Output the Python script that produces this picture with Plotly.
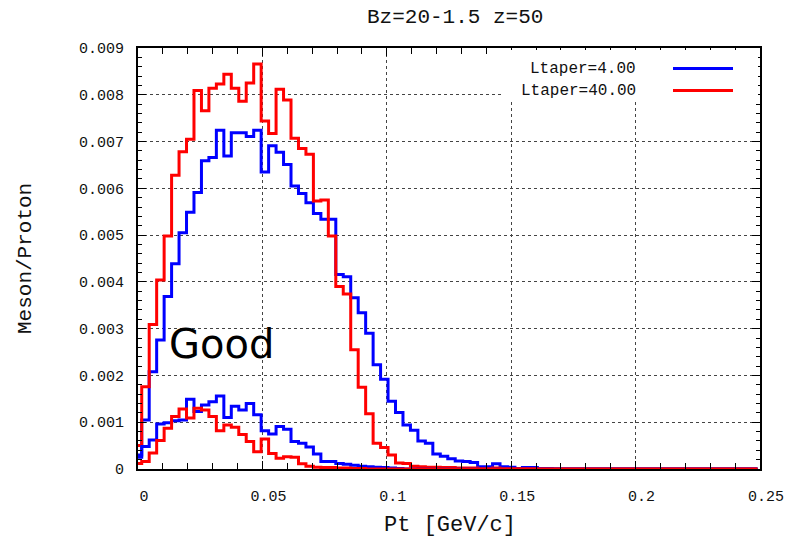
import plotly.graph_objects as go

# ---------------- data ----------------
BIN_WIDTH = 0.003
N_BINS = 84

ltaper4_high = [
    0.00030, 0.00105, 0.00208, 0.00276, 0.00369, 0.00439, 0.00505, 0.00549, 0.00591, 0.00659,
    0.00666, 0.00724, 0.00669, 0.00719, 0.00719, 0.00711, 0.00724, 0.00635, 0.00691, 0.00677,
    0.00651, 0.00605, 0.00589, 0.00569, 0.00546, 0.00534, 0.00534, 0.00416, 0.00411, 0.00366,
    0.00334, 0.00290, 0.00223, 0.00192, 0.00145, 0.00121, 0.00094, 0.00083, 0.00060, 0.00055,
    0.00032, 0.00027, 0.00022, 0.00017, 0.00016, 0.00014, 0.00005, 0.00005, 0.00011, 0.00005,
    0.00004, 0.00001, 0.00003, 0.00003, 0.00001, 0.00001, 0, 0, 0, 0,
    0, 0, 0, 0, 0, 0, 0, 0, 0, 0,
    0, 0, 0, 0, 0, 0, 0, 0, 0, 0,
    0, 0, 0, 0,
]

ltaper40_high = [
    0.00050, 0.00176, 0.00309, 0.00404, 0.00498, 0.00628, 0.00678, 0.00705, 0.00809, 0.00766,
    0.00814, 0.00823, 0.00844, 0.00814, 0.00786, 0.00825, 0.00866, 0.00744, 0.00717, 0.00812,
    0.00789, 0.00707, 0.00685, 0.00673, 0.00573, 0.00575, 0.00498, 0.00390, 0.00374, 0.00255,
    0.00175, 0.00118, 0.00055, 0.00046, 0.00030, 0.00013, 0.00012, 0.00006, 0.00005, 0.00004,
    0.00004, 0.00003, 0.00003, 0.00002, 0.00002, 0.00002, 0.00001, 0.00001, 0.00002, 0.00001,
    0.00001, 0.00001, 0.00001, 0.00001, 0, 0, 0, 0, 0, 0,
    0, 0, 0, 0, 0, 0, 0, 0, 0, 0,
    0, 0, 0, 0, 0, 0, 0, 0, 0, 0,
    0, 0, 0, 0,
]

ltaper4_low = [
    0.00025, 0.00048, 0.00062, 0.00096, 0.00099, 0.00103, 0.00105, 0.00149, 0.00123, 0.00137,
    0.00144, 0.00156, 0.00110, 0.00134, 0.00126, 0.00140, 0.00116, 0.00082, 0.00075, 0.00091,
    0.00085, 0.00059, 0.00055, 0.00047, 0.00032, 0.00016, 0.00016, 0.00012, 0.00010, 0.00008,
    0.00006, 0.00005, 0.00004, 0.00003, 0.00002, 0.00001, 0, 0, 0, 0,
    0, 0, 0, 0, 0, 0, 0, 0, 0, 0,
    0, 0, 0, 0, 0, 0, 0, 0, 0, 0,
    0, 0, 0, 0, 0, 0, 0, 0, 0, 0,
    0, 0, 0, 0, 0, 0, 0, 0, 0, 0,
    0, 0, 0, 0,
]

ltaper40_low = [
    0.00012, 0.00016, 0.00034, 0.00061, 0.00087, 0.00112, 0.00128, 0.00109, 0.00130, 0.00126,
    0.00112, 0.00082, 0.00094, 0.00089, 0.00074, 0.00059, 0.00037, 0.00064, 0.00033, 0.00023,
    0.00026, 0.00025, 0.00011, 0.00006, 0.00004, 0.00003, 0.00003, 0.00002, 0.00002, 0.00001,
    0.00001, 0, 0, 0, 0, 0, 0, 0, 0, 0,
    0, 0, 0, 0, 0, 0, 0, 0, 0, 0,
    0, 0, 0, 0, 0, 0, 0, 0, 0, 0,
    0, 0, 0, 0, 0, 0, 0, 0, 0, 0,
    0, 0, 0, 0, 0, 0, 0, 0, 0, 0,
    0, 0, 0, 0,
]

pt = [round(i * BIN_WIDTH, 4) for i in range(N_BINS)]

x_tickvals = [0, 0.05, 0.1, 0.15, 0.2, 0.25]
x_ticktext = ["0", "0.05", "0.1", "0.15", "0.2", "0.25"]
y_tickvals = [0, 0.001, 0.002, 0.003, 0.004, 0.005, 0.006, 0.007, 0.008, 0.009]
y_ticktext = ["0", "0.001", "0.002", "0.003", "0.004", "0.005", "0.006", "0.007", "0.008", "0.009"]

legend_labels = ["Ltaper=4.00", "Ltaper=40.00"]
BLUE = "#0000ff"
RED = "#ff0000"
MONO = "Liberation Mono, Courier New, monospace"

# ---------------- figure ----------------
fig = go.Figure()
traces = [
    (ltaper4_high, legend_labels[0], BLUE),
    (ltaper40_high, legend_labels[1], RED),
    (ltaper4_low, legend_labels[0] + " (low)", BLUE),
    (ltaper40_low, legend_labels[1] + " (low)", RED),
]
for vals, name, col in traces:
    fig.add_trace(go.Scatter(
        x=pt, y=vals, mode="lines", name=name, showlegend=False,
        line=dict(color=col, width=3, shape="hvh"),
    ))

# plot area in pixels
L, R, T, B = 138, 27, 48, 70
W, H = 787, 539
pw, ph = W - L - R, H - T - B

def px(xp):
    return (xp - L) / pw

def py(yp):
    return (H - B - yp) / ph

axis_common = dict(
    showline=True, linewidth=2, linecolor="black", mirror="ticks",
    ticks="inside", ticklen=8, tickwidth=1, tickcolor="black",
    showgrid=True, gridcolor="#444444", griddash="dot", gridwidth=1,
    zeroline=False, automargin=False,
    tickfont=dict(family=MONO, size=15, color="#111111"),
)

fig.update_xaxes(
    range=[0, 0.25], tickmode="array", tickvals=x_tickvals, ticktext=x_ticktext,
    minor=dict(ticks="inside", ticklen=6, tickwidth=1, tickcolor="black",
               tickmode="linear", tick0=0, dtick=0.01, showgrid=False),
    ticklabelstandoff=12, ticklabelshift=6,
    **axis_common,
)
fig.update_yaxes(
    range=[0, 0.009], tickmode="array", tickvals=y_tickvals, ticktext=y_ticktext,
    minor=dict(ticks="inside", ticklen=4, tickwidth=1, tickcolor="black",
               tickmode="linear", tick0=0, dtick=0.0002, showgrid=False),
    ticklabelstandoff=9,
    **axis_common,
)

annotations = [
    dict(text="Bz=20-1.5 z=50", x=px(455), y=py(18), xref="paper", yref="paper",
         showarrow=False, xanchor="center", yanchor="middle",
         font=dict(family=MONO, size=21, color="#111111")),
    dict(text="Pt [GeV/c]", x=px(450), y=py(525), xref="paper", yref="paper",
         showarrow=False, xanchor="center", yanchor="middle",
         font=dict(family=MONO, size=22, color="#111111")),
    dict(text="Meson/Proton", x=px(25), y=py(259), xref="paper", yref="paper",
         showarrow=False, xanchor="center", yanchor="middle", textangle=-90,
         font=dict(family=MONO, size=21, color="#111111")),
    dict(text="Good", x=0.0117, y=0.00268, xref="x", yref="y",
         showarrow=False, xanchor="left", yanchor="middle",
         font=dict(family="DejaVu Sans", size=40, color="black")),
]
shapes = [
    dict(type="rect", xref="paper", yref="paper", x0=px(503), x1=px(758), y0=py(101), y1=py(50),
         fillcolor="white", line=dict(width=0), layer="above"),
]
for i, (lab, col) in enumerate(zip(legend_labels, [BLUE, RED])):
    yy = 68.5 + 22 * i
    annotations.append(dict(text=lab, x=px(638), y=py(yy), xref="paper", yref="paper",
                            showarrow=False, xanchor="right", yanchor="middle",
                            font=dict(family=MONO, size=16, color="#111111")))
    shapes.append(dict(type="line", xref="paper", yref="paper", x0=px(673), x1=px(733),
                       y0=py(yy), y1=py(yy), line=dict(color=col, width=3), layer="above"))

fig.update_layout(
    width=W, height=H,
    margin=dict(l=L, r=R, t=T, b=B),
    paper_bgcolor="white", plot_bgcolor="white",
    annotations=annotations, shapes=shapes,
    showlegend=False,
)

fig.write_html("out.html")
